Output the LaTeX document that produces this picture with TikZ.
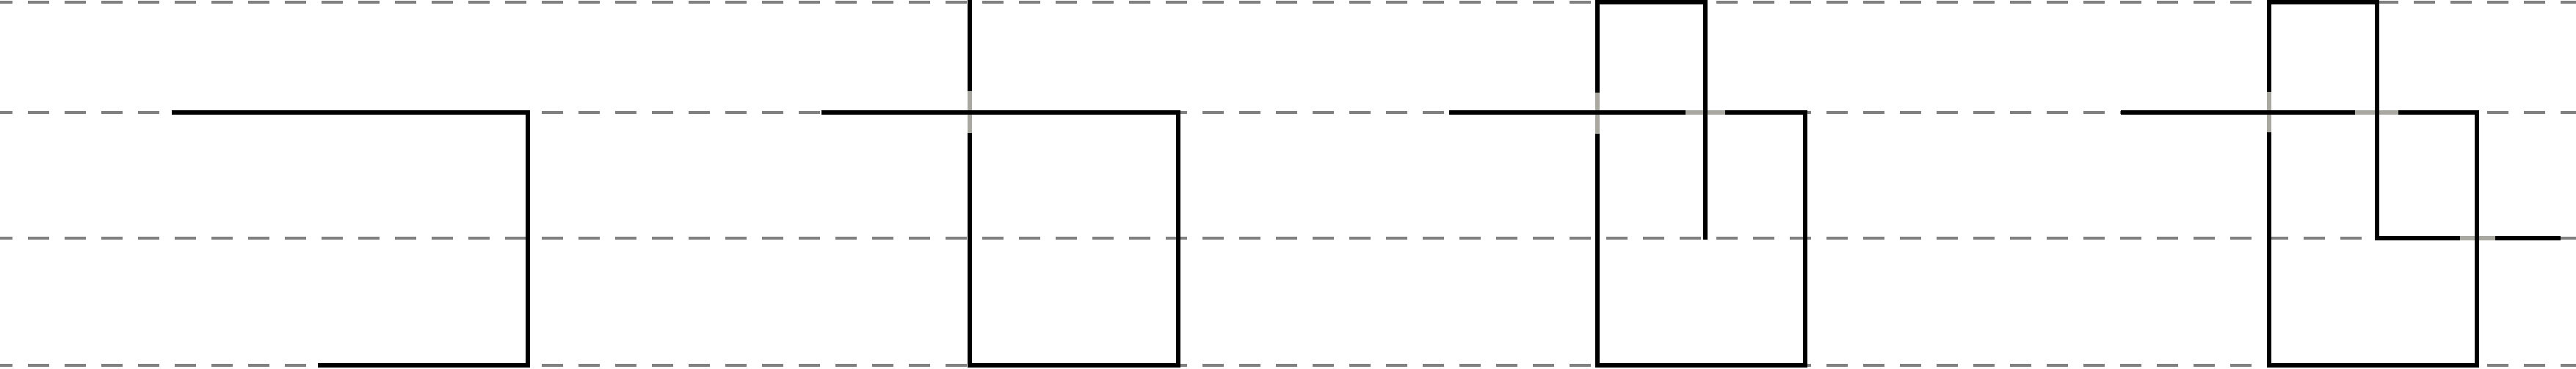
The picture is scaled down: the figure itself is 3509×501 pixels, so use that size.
\documentclass[tikz,border=0pt]{standalone}
\usepackage{tikz}
\usetikzlibrary{calc}
\definecolor{guidegray}{HTML}{808080}
\definecolor{shade}{RGB}{168,168,160}

\begin{document}
\begin{tikzpicture}[x=0.1mm, y=-0.1mm, strand/.style={line width=0.6mm}, under/.style={line width=0.6mm, draw=shade}, guide/.style={draw=guidegray, line width=0.4mm, dash pattern=on 2.9mm off 2.1mm, dash phase=1.23mm}]
\useasboundingbox (0,0) rectangle (3509,501);
% level lines
\foreach \lv in {3,153,324,496.5}
  \draw[guide] (0,\lv) -- (3509,\lv);
% first stage
\coordinate (a1) at (234,153);
\coordinate (a2) at (719,153);
\coordinate (a3) at (719,497);
\coordinate (a4) at (433,497);
\draw[strand] (a1)--(a2)--(a3)--(a4);
% second stage
\coordinate (b1) at (1119,153);
\coordinate (b2) at (1605,153);
\coordinate (b3) at (1605,497);
\coordinate (b4) at (1321,497);
\coordinate (b5) at (1321,0);
\draw[strand] (b1)--(b2)--(b3)--(b4)--(b5);
% third stage
\coordinate (c1) at (1974,153);
\coordinate (c2) at (2459,153);
\coordinate (c3) at (2459,497);
\coordinate (c4) at (2176,497);
\coordinate (c5) at (2176,3);
\coordinate (c6) at (2323,3);
\coordinate (c7) at (2323,326);
\draw[strand] (c1)--(c2)--(c3)--(c4)--(c5)--(c6)--(c7);
% fourth stage
\coordinate (d1) at (2889,153);
\coordinate (d2) at (3374,153);
\coordinate (d3) at (3374,497);
\coordinate (d4) at (3091,497);
\coordinate (d5) at (3091,3);
\coordinate (d6) at (3238,3);
\coordinate (d7) at (3238,324);
\coordinate (d8) at (3488,324);
\draw[strand] (d1)--(d2)--(d3)--(d4)--(d5)--(d6)--(d7)--(d8);
% crossings: vertical strand underneath
\foreach \cx/\ta/\tb in {1321/124/181, 2176/126/182, 3091/125/180}{
  \draw[under] (\cx,\ta) -- (\cx,\tb);
  \draw[strand] (\cx-6,153) -- (\cx+6,153);
}
% crossings: horizontal strand underneath
\foreach \cy/\cx/\ta/\tb in {153/2323/2296/2350, 153/3238/3208/3267, 324/3374/3351/3399}{
  \draw[under] (\ta,\cy) -- (\tb,\cy);
  \draw[strand] (\cx,\cy-6) -- (\cx,\cy+6);
}
\end{tikzpicture}
\end{document}
